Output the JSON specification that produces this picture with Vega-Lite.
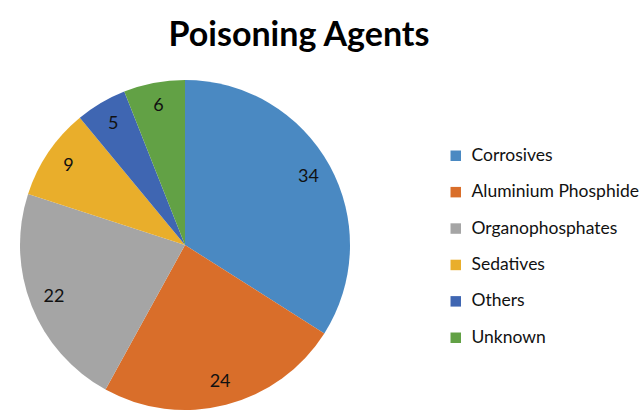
{
  "$schema": "https://vega.github.io/schema/vega-lite/v6.json",
  "autosize": "none",
  "padding": {"left": 20, "top": 80, "right": 292, "bottom": 8},
  "width": 330,
  "height": 330,
  "background": "white",
  "config": {"view": {"stroke": null}},
  "title": {
    "text": "Poisoning Agents",
    "font": "Lato",
    "fontSize": 34,
    "fontWeight": "bold",
    "color": "#000000",
    "anchor": "middle",
    "dx": 114,
    "baseline": "alphabetic",
    "offset": 0
  },
  "data": {
    "values": [
      {"agent": "Corrosives", "value": 34, "order": 1},
      {"agent": "Aluminium Phosphide", "value": 24, "order": 2},
      {"agent": "Organophosphates", "value": 22, "order": 3},
      {"agent": "Sedatives", "value": 9, "order": 4},
      {"agent": "Others", "value": 5, "order": 5},
      {"agent": "Unknown", "value": 6, "order": 6}
    ]
  },
  "encoding": {
    "theta": {"field": "value", "type": "quantitative", "stack": true},
    "order": {"field": "order", "type": "quantitative"},
    "color": {
      "field": "agent",
      "type": "nominal",
      "sort": ["Corrosives", "Aluminium Phosphide", "Organophosphates", "Sedatives", "Others", "Unknown"],
      "scale": {
        "domain": ["Corrosives", "Aluminium Phosphide", "Organophosphates", "Sedatives", "Others", "Unknown"],
        "range": ["#4A89C2", "#D96E2A", "#A5A5A5", "#E9AE2B", "#3F66B2", "#62A145"]
      },
      "legend": {
        "title": null,
        "orient": "none",
        "legendX": 427,
        "legendY": 67,
        "symbolType": "square",
        "symbolSize": 110,
        "symbolStrokeWidth": 0,
        "labelFont": "Lato",
        "labelFontSize": 17.5,
        "labelColor": "#111111",
        "labelOffset": 7,
        "labelLimit": 300,
        "rowPadding": 17.4
      }
    }
  },
  "layer": [
    {"mark": {"type": "arc", "outerRadius": 165}},
    {
      "mark": {"type": "text", "radius": 141, "font": "Lato", "fontSize": 18, "color": "#111111"},
      "encoding": {
        "text": {"field": "value", "type": "quantitative"},
        "color": {"value": "#111111"}
      }
    }
  ]
}
